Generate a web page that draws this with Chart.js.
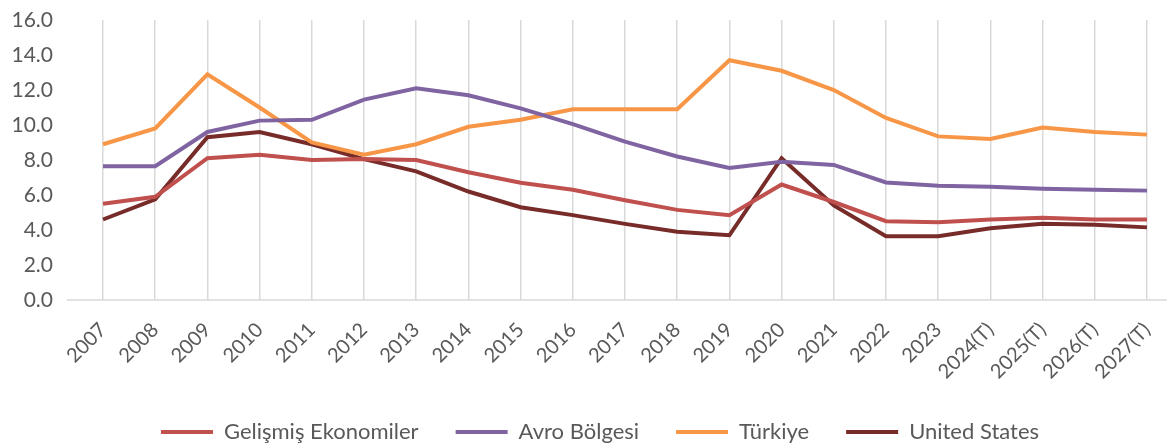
<!DOCTYPE html>
<html>
<head>
<meta charset="utf-8">
<script src="https://cdn.jsdelivr.net/npm/chart.js@4"></script>
<style>
  html, body { margin: 0; padding: 0; background: #fff; }
  #wrap { width: 1167px; height: 444px; }
</style>
</head>
<body>
<div id="wrap"><canvas id="chart" width="1167" height="444"></canvas></div>
<script>
// Categories (T = tahmin)
const years = ['2007', '2008', '2009', '2010', '2011', '2012', '2013', '2014', '2015', '2016', '2017',
    '2018', '2019', '2020', '2021', '2022', '2023', '2024(T)', '2025(T)', '2026(T)', '2027(T)'];

// Series values
const gelismis = [5.5, 5.9, 8.1, 8.3, 8.0, 8.05, 8.0, 7.3, 6.7, 6.3, 5.7, 5.15, 4.85, 6.6, 5.6, 4.5, 4.45, 4.6, 4.7, 4.6, 4.6];
const avro = [7.65, 7.65, 9.6, 10.25, 10.3, 11.45, 12.1, 11.7, 10.95, 10.05, 9.05, 8.2, 7.55, 7.9, 7.72, 6.72, 6.53, 6.47, 6.36, 6.3, 6.25];
const turkiye = [8.9, 9.8, 12.9, 11.0, 9.0, 8.3, 8.9, 9.9, 10.3, 10.9, 10.9, 10.9, 13.7, 13.1, 12.0, 10.4, 9.35, 9.2, 9.85, 9.6, 9.45];
const unitedStates = [4.6, 5.75, 9.3, 9.6, 8.9, 8.05, 7.35, 6.2, 5.3, 4.85, 4.35, 3.9, 3.7, 8.1, 5.4, 3.65, 3.65, 4.1, 4.35, 4.3, 4.15];

// Y axis ticks
const yTicks = [0, 2, 4, 6, 8, 10, 12, 14, 16];

const textColor = '#595959';
const gridColor = '#d9d9d9';
const family = 'Lato, "Open Sans", sans-serif';

// draws the long category baseline like Excel does (runs past the first/last point)
const baseline = {
    id: 'baseline',
    beforeDatasetsDraw(chart) {
        const ctx = chart.ctx;
        const y = chart.scales.y.getPixelForValue(0);
        ctx.save();
        ctx.strokeStyle = gridColor;
        ctx.lineWidth = 1.5;
        ctx.beginPath();
        ctx.moveTo(67, y);
        ctx.lineTo(chart.width, y);
        ctx.stroke();
        ctx.restore();
    }
};

// legend is centred on the plot frame rather than on the whole canvas
const legendBounds = {
    id: 'legendBounds',
    afterLayout(chart) {
        const lg = chart.legend;
        if (!lg) return;
        lg.left = 53;
        lg.right = chart.chartArea.right;
        lg.width = lg.right - lg.left;
    }
};

function series(label, data, color) {
    return {
        label: label,
        data: data,
        borderColor: color,
        backgroundColor: color,
        borderWidth: 4,
        pointRadius: 0,
        pointHoverRadius: 0,
        tension: 0,
        fill: false,
        pointStyle: 'line'
    };
}

new Chart(document.getElementById('chart'), {
    type: 'line',
    data: {
        labels: years,
        datasets: [
            series('Gelişmiş Ekonomiler', gelismis, '#C0504D'),
            series('Avro Bölgesi', avro, '#8064A2'),
            series('Türkiye', turkiye, '#F79646'),
            series('United States', unitedStates, '#772C2A')
        ]
    },
    plugins: [baseline, legendBounds],
    options: {
        responsive: false,
        animation: false,
        layout: {
            padding: { top: 20, right: 20, bottom: -9, left: 0 }
        },
        plugins: {
            tooltip: { enabled: false },
            legend: {
                position: 'bottom',
                labels: {
                    color: textColor,
                    font: { family: family, size: 22 },
                    usePointStyle: true,
                    pointStyleWidth: 52,
                    boxHeight: 22,
                    padding: 37
                }
            }
        },
        scales: {
            x: {
                offset: false,
                afterFit: (scale) => {
                    scale.height = 84;
                    scale.paddingLeft = 0;
                    scale.paddingRight = 0;
                },
                grid: {
                    color: gridColor,
                    lineWidth: 1.5,
                    drawTicks: false
                },
                border: { display: false },
                ticks: {
                    color: textColor,
                    font: { family: family, size: 20 },
                    autoSkip: false,
                    maxRotation: 45,
                    minRotation: 45,
                    padding: 18
                }
            },
            y: {
                min: 0,
                max: 16,
                afterBuildTicks: (scale) => {
                    scale.ticks = yTicks.map(v => ({ value: v }));
                },
                afterFit: (scale) => {
                    scale.width = 103;
                },
                grid: {
                    drawOnChartArea: false,
                    drawTicks: true,
                    tickLength: 47,
                    tickColor: 'rgba(0,0,0,0)'
                },
                border: { display: false },
                ticks: {
                    color: textColor,
                    font: { family: family, size: 21 },
                    padding: 3,
                    callback: (v) => Number(v).toFixed(1)
                }
            }
        }
    }
});
</script>
</body>
</html>
